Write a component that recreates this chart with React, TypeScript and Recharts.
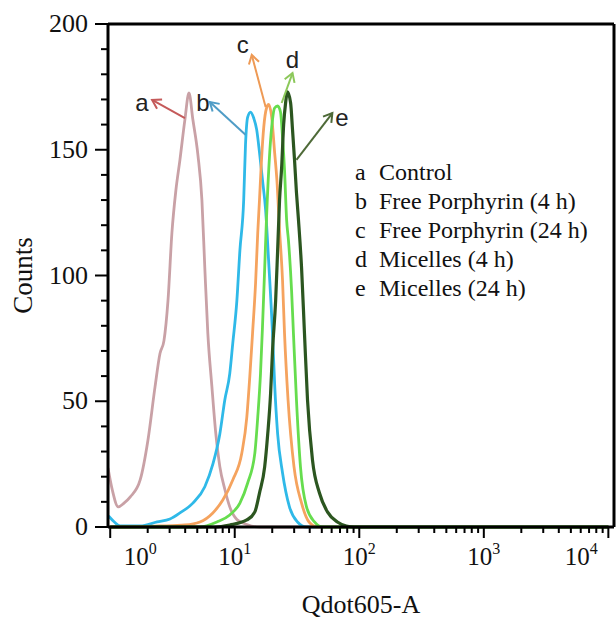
import { LineChart, Line, XAxis, YAxis, ReferenceLine, ReferenceDot, Legend, Label } from 'recharts';

// fluorescence intensity (Qdot605-A) and counts for each histogram
const CONTROL_X = [0.96, 1.04, 1.16, 1.29, 1.45, 1.74, 2.01, 2.29, 2.51, 2.7, 2.91, 3.13, 3.37, 3.63, 3.98, 4.29, 4.61, 5.06, 5.45, 5.75, 6.08, 6.55, 7.05, 7.59, 8.32, 9.12, 10.4, 12.5, 15.8, 100, 1000, 10000];
const CONTROL_Y = [23.5, 14.7, 8, 9.5, 12, 18.7, 34.6, 55.7, 69, 74, 90, 117, 134, 146, 162, 172.6, 162, 148, 130, 103, 77, 56, 37, 24, 15, 8, 3, 1, 0, 0, 0, 0];

const FREE4_X = [0.97, 1.08, 1.2, 1.74, 2.38, 3.02, 3.63, 4.61, 5.75, 6.67, 7.59, 8.32, 9.12, 9.64, 10.4, 11.0, 11.8, 12.2, 12.7, 13.4, 14.2, 15.0, 15.8, 16.7, 17.7, 18.7, 20.1, 20.9, 22.1, 24.2, 27.5, 31.9, 37.7, 100, 1000, 10000];
const FREE4_Y = [4.4, 2, 0.4, 0.4, 2, 3.2, 5.6, 9.5, 16, 25, 37, 50.5, 61, 73, 90, 110, 130, 152, 163, 165, 162.6, 158, 149, 138, 126, 106, 77, 57, 37, 21.5, 8, 2, 0, 0, 0, 0];

const FREE24_X = [1, 2.51, 3.98, 5.25, 6.67, 8.02, 9.64, 11.4, 12.5, 13.2, 13.9, 14.7, 15.3, 15.8, 16.4, 17.1, 18.0, 18.7, 19.8, 20.9, 21.8, 22.9, 24.2, 25.1, 26.8, 29.9, 34.4, 39.5, 46.3, 100, 1000, 10000];
const FREE24_Y = [0, 0.4, 0.8, 2, 5.6, 10.7, 18.7, 29.4, 43.7, 59.6, 77, 97, 117, 130, 146, 159, 166.6, 168, 163, 149, 138, 118, 98, 77, 50.5, 24, 9.5, 2, 0, 0, 0, 0];

const MIC4_X = [1, 5.25, 7.18, 9.12, 11.0, 12.7, 14.5, 15.3, 16.1, 16.7, 17.4, 18.0, 19.1, 20.1, 20.9, 22.1, 23.3, 24.2, 25.1, 26.1, 27.0, 28.6, 29.6, 31.3, 33.7, 37.7, 43.7, 50.6, 100, 1000, 10000];
const MIC4_Y = [0, 0, 2, 4.8, 9.5, 17.5, 29.4, 43.7, 61, 79.5, 103, 123, 149, 162, 166.6, 167.4, 165, 155, 142, 122, 114, 94, 77, 50.5, 24, 8, 2, 0, 0, 0, 0];

const MIC24_X = [1, 6.92, 9.12, 12.5, 14.5, 15.8, 17.4, 18.4, 19.4, 20.1, 21.3, 22.1, 22.9, 23.8, 24.7, 25.6, 26.5, 28.1, 29.1, 30.2, 31.3, 32.5, 34.4, 36.3, 38.4, 42.1, 47.9, 55.5, 66.7, 78.7, 91.2, 1000, 10000];
const MIC24_Y = [0, 0, 0.8, 2.8, 6, 13.5, 24, 37, 53, 70, 90, 110, 130, 143, 160, 168.6, 173, 168.6, 158, 146, 133, 122, 103, 77, 50.5, 26.6, 13.5, 6, 2, 0.4, 0, 0, 0];

const LETTERS = ['a', 'b', 'c', 'd', 'e'];
const NAMES = ['Control', 'Free Porphyrin (4 h)', 'Free Porphyrin (24 h)', 'Micelles (4 h)', 'Micelles (24 h)'];
const COLORS = ['#C9A1A6', '#2FB9E8', '#F5A35E', '#66DD4E', '#2C5620'];
const ARROW_COLORS = ['#C55A5A', '#4F9CC6', '#EE9A55', '#8CC85A', '#4E6A38'];

// annotation letters and arrows (tail -> tip) in data units
const LETTER_POS = [[1.8, 168.6], [5.55, 168.6], [11.6, 191.6], [29.1, 185.5], [72.5, 162.6]];
const ARROW_TAIL = [[3.98, 162.6], [12.2, 156], [17.7, 167], [23.8, 168.6], [31.3, 146]];
const ARROW_TIP = [[2.17, 169.8], [6.31, 169], [13.7, 187.7], [29.1, 180.5], [60.8, 164.6]];

const X_DOMAIN = [0.96, 11100];
const X_TICKS: number[] = [];
for (let d = 0; d < 4; d++) {
  for (let m = 1; m <= 9; m++) X_TICKS.push(m * Math.pow(10, d));
}
X_TICKS.push(10000);
const Y_TICKS = Array.from({ length: 21 }, (_, i) => i * 10);

const SERIES = [
  [CONTROL_X, CONTROL_Y],
  [FREE4_X, FREE4_Y],
  [FREE24_X, FREE24_Y],
  [MIC4_X, MIC4_Y],
  [MIC24_X, MIC24_Y],
].map(([xs, ys]) => xs.map((x, i) => ({ x, count: ys[i] })));

const FONT = '"Liberation Serif", "Times New Roman", serif';

const XTick = (props: any) => {
  const { x, y, payload } = props;
  const lg = Math.log10(payload.value);
  const exp = Math.round(lg);
  const major = Math.abs(lg - exp) < 1e-6;
  const shift = exp === 0 ? 30 : exp === 4 ? -27 : 0;
  return (
    <g>
      <line x1={x} x2={x} y1={y} y2={y + (major ? 11 : 6)} stroke="#000" strokeWidth={2} />
      {major && (
        <text x={x + shift} y={y + 38} textAnchor="middle" fontSize={25} fontFamily={FONT} fill="#111">
          10<tspan dy={-11} fontSize={16}>{exp}</tspan>
        </text>
      )}
    </g>
  );
};

const YTick = (props: any) => {
  const { x, y, payload } = props;
  const major = payload.value % 50 === 0;
  return (
    <g>
      <line x1={x} x2={x - (major ? 13 : 7)} y1={y} y2={y} stroke="#000" strokeWidth={2} />
      {major && (
        <text x={x - 20} y={y + 8} textAnchor="end" fontSize={26} fontFamily={FONT} fill="#111">
          {payload.value}
        </text>
      )}
    </g>
  );
};

const arrowShape = (color: string) => (props: any) => {
  const { x1, y1, x2, y2 } = props;
  const ang = Math.atan2(y2 - y1, x2 - x1);
  const len = 10;
  const p1 = [x2 + len * Math.cos(ang + Math.PI - 0.55), y2 + len * Math.sin(ang + Math.PI - 0.55)];
  const p2 = [x2 + len * Math.cos(ang + Math.PI + 0.55), y2 + len * Math.sin(ang + Math.PI + 0.55)];
  return (
    <g>
      <line x1={x1} y1={y1} x2={x2} y2={y2} stroke={color} strokeWidth={2} />
      <polyline points={`${p1[0]},${p1[1]} ${x2},${y2} ${p2[0]},${p2[1]}`} fill="none" stroke={color} strokeWidth={2} />
    </g>
  );
};

const letterShape = (letter: string) => (props: any) => (
  <text
    x={props.cx}
    y={props.cy + 8}
    textAnchor="middle"
    fontSize={24}
    fontFamily='"Liberation Sans", Arial, sans-serif'
    fill="#222"
  >
    {letter}
  </text>
);

const renderLegend = () => (
  <div style={{ fontFamily: FONT, fontSize: 24, color: '#111', lineHeight: '29px' }}>
    {NAMES.map((name, i) => (
      <div key={name} style={{ display: 'flex', whiteSpace: 'nowrap' }}>
        <span style={{ width: 24 }}>{LETTERS[i]}</span>
        <span>{name}</span>
      </div>
    ))}
  </div>
);

export default function App() {
  return (
    <div style={{ position: 'absolute', left: 0, top: 0, width: 616, height: 622, background: '#fff' }}>
      <LineChart width={616} height={622} margin={{ top: 24, right: 2, left: 8, bottom: 10 }}>
        <XAxis
          dataKey="x"
          type="number"
          scale="log"
          domain={X_DOMAIN}
          allowDataOverflow
          ticks={X_TICKS}
          interval={0}
          tick={<XTick />}
          tickLine={false}
          tickSize={0}
          tickMargin={0}
          height={85}
          axisLine={{ stroke: '#000', strokeWidth: 3 }}
        >
          <Label
            value="Qdot605-A"
            position="insideBottom"
            offset={-1}
            style={{ fontFamily: FONT, fontSize: 26, fill: '#111' }}
          />
        </XAxis>
        <YAxis
          type="number"
          domain={[0, 200]}
          ticks={Y_TICKS}
          interval={0}
          tick={<YTick />}
          tickLine={false}
          tickSize={0}
          tickMargin={0}
          width={100}
          axisLine={{ stroke: '#000', strokeWidth: 3 }}
        >
          <Label
            value="Counts"
            angle={-90}
            position="insideLeft"
            offset={14}
            style={{ fontFamily: FONT, fontSize: 27, fill: '#111', textAnchor: 'middle' }}
          />
        </YAxis>
        <ReferenceLine y={200} stroke="#000" strokeWidth={3} />
        <ReferenceLine x={X_DOMAIN[1]} stroke="#000" strokeWidth={3} />
        {SERIES.map((data, i) => (
          <Line
            key={NAMES[i]}
            data={data}
            dataKey="count"
            name={NAMES[i]}
            type="monotone"
            stroke={COLORS[i]}
            strokeWidth={i === 4 ? 3.2 : 2.8}
            dot={false}
            isAnimationActive={false}
          />
        ))}
        {LETTERS.map((l, i) => (
          <ReferenceLine
            key={`arrow-${l}`}
            segment={[
              { x: ARROW_TAIL[i][0], y: ARROW_TAIL[i][1] },
              { x: ARROW_TIP[i][0], y: ARROW_TIP[i][1] },
            ]}
            shape={arrowShape(ARROW_COLORS[i])}
          />
        ))}
        {LETTERS.map((l, i) => (
          <ReferenceDot key={`letter-${l}`} x={LETTER_POS[i][0]} y={LETTER_POS[i][1]} shape={letterShape(l)} />
        ))}
        <Legend
          layout="vertical"
          align="center"
          verticalAlign="middle"
          content={renderLegend}
          wrapperStyle={{ left: 355, top: 158, width: 260 }}
        />
      </LineChart>
    </div>
  );
}
